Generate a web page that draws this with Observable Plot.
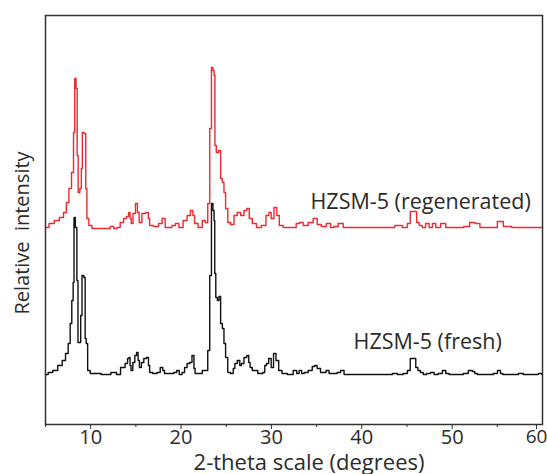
<!DOCTYPE html>
<html>
<head>
<meta charset="utf-8">
<script src="https://cdn.jsdelivr.net/npm/d3@7"></script>
<script src="https://cdn.jsdelivr.net/npm/@observablehq/plot@0.6"></script>
<style>
  html, body { margin: 0; padding: 0; background: #fff; }
  #chart svg { display: block; }
</style>
</head>
<body>
<div id="chart"></div>
<script>
// 2-theta (degrees) and relative intensity (arbitrary units, above own baseline)
const freshTheta = [5.0,5.08,5.52,6.07,6.63,7.07,7.36,7.66,7.80,8.02,8.10,8.21,8.40,8.54,8.65,8.84,8.95,9.13,9.35,9.43,9.57,9.76,10.13,12.17,12.31,12.75,12.97,13.64,13.97,14.19,14.30,14.41,14.52,14.80,14.97,15.19,15.30,15.49,15.74,16.02,16.33,16.46,16.59,17.15,17.51,17.88,18.07,18.26,18.99,19.40,19.65,19.95,20.28,20.50,20.84,21.06,21.36,21.50,21.61,22.17,22.53,22.83,23.08,23.27,23.46,23.60,23.71,23.75,23.94,24.10,24.30,24.46,24.68,24.82,25.04,25.30,25.68,25.87,26.04,26.41,26.59,26.78,27.15,27.40,27.59,27.70,28.07,28.37,28.62,28.92,29.17,29.36,29.55,29.84,30.11,30.36,30.66,30.95,31.39,32.13,32.69,32.91,33.24,33.46,33.79,34.35,34.68,34.90,35.23,35.64,35.90,36.20,36.56,37.11,37.45,37.86,38.22,39.88,41.55,43.21,43.57,44.31,44.87,45.23,45.50,45.86,46.09,46.34,46.64,46.97,47.41,47.82,48.19,48.74,49.11,49.48,49.85,50.96,51.51,52.07,52.40,52.62,52.95,54.28,54.83,55.20,55.50,55.72,57.05,57.60,58.16,59.26,59.82,60.0];
const freshI = [1,1,3,5,10,15,22,32,52,75,93,158,148,95,33,33,60,100,98,37,32,5,2,1,3,3,1,8,12,17,18,10,5,13,20,23,15,8,13,17,18,10,3,2,3,8,5,2,2,3,5,1,3,8,12,13,20,7,2,2,5,5,25,100,172,165,155,102,78,75,79,52,47,32,18,3,2,7,12,15,10,12,18,20,13,8,5,5,2,2,3,10,12,17,8,22,15,5,2,1,5,2,5,2,3,5,9,10,7,3,3,5,2,2,3,5,1,1,1,1,2,1,2,5,17,17,8,5,3,1,2,3,1,2,5,2,1,1,2,5,4,2,1,1,2,5,2,1,1,2,1,1,2,1];

const regenTheta = [5.0,5.08,5.70,6.25,6.81,7.18,7.44,7.74,8.02,8.18,8.29,8.47,8.54,8.69,8.91,9.02,9.13,9.40,9.51,9.65,9.95,10.32,11.98,12.34,12.75,13.08,13.45,13.83,14.08,14.30,14.41,14.56,14.80,15.11,15.24,15.49,15.85,16.30,16.46,16.59,17.29,17.74,18.07,18.43,18.84,19.17,19.58,19.95,20.50,20.84,21.24,21.39,21.61,22.17,22.53,22.83,23.08,23.27,23.46,23.60,23.71,23.79,24.01,24.30,24.46,24.68,24.82,25.04,25.30,25.68,26.04,26.41,26.78,27.15,27.40,27.70,28.07,28.62,29.17,29.62,29.84,30.11,30.47,30.73,31.02,31.58,32.46,33.02,33.24,33.79,34.35,34.90,35.23,35.79,36.37,36.74,37.11,37.67,38.22,39.88,41.55,43.21,44.09,44.87,45.23,45.50,45.98,46.17,46.53,46.86,47.27,47.63,48.00,48.37,49.11,49.48,50.96,51.62,52.25,52.80,53.36,54.61,55.39,55.94,57.24,58.34,60.0];
const regenI = [1,1,5,8,11,16,26,40,56,96,150,140,73,36,40,60,96,95,40,10,3,0,0,2,0,1,6,10,12,16,10,5,15,25,16,6,15,16,10,3,2,5,10,1,1,3,5,1,8,13,18,13,5,1,8,6,25,100,161,158,153,83,76,78,50,46,36,20,6,4,13,16,13,18,20,10,5,1,3,13,16,10,21,13,3,1,1,5,6,3,6,10,4,2,5,1,2,5,1,1,1,1,3,1,5,17,17,6,3,1,5,1,5,1,5,1,1,2,6,5,1,1,7,2,1,1,1];

const seriesNames = ["HZSM-5 (fresh)", "HZSM-5 (regenerated)"];
const seriesOffsets = [49, 196];        // vertical stacking offsets (intensity units)
const seriesColors = ["#111111", "#ee2a31"];
const labelTheta = [55.5, 58.7];        // where each series label ends
const labelIntensity = [33, 26];        // label height above its baseline
const xTicks = [10, 20, 30, 40, 50];
const xLastTick = [60];
const xMinorTicks = [5, 15, 25, 35, 45, 55];

const rows = [];
freshTheta.forEach((t, i) => rows.push({series: seriesNames[0], theta: t, y: freshI[i] + seriesOffsets[0]}));
regenTheta.forEach((t, i) => rows.push({series: seriesNames[1], theta: t, y: regenI[i] + seriesOffsets[1]}));

const labels = seriesNames.map((s, i) => ({text: s, theta: labelTheta[i], y: labelIntensity[i] + seriesOffsets[i]}));

const font = "'Open Sans', sans-serif";
const textColor = "#2b2b2b";

const chart = Plot.plot({
  width: 547,
  height: 474,
  marginLeft: 45,
  marginRight: 5,
  marginTop: 15,
  marginBottom: 50,
  style: {fontFamily: font, fontSize: "20px", color: textColor, background: "#fff"},
  x: {domain: [5, 60]},
  y: {domain: [0, 409], axis: null},
  marks: [
    Plot.axisX({ticks: xMinorTicks, tickSize: 3, tickFormat: () => "", label: null, stroke: "#333"}),
    Plot.axisX({ticks: xTicks, tickSize: 5, tickPadding: 0, label: null, stroke: "#333", fill: textColor, fontSize: 20}),
    Plot.axisX({ticks: xLastTick, tickSize: 5, tickPadding: 0, label: null, stroke: "#333", fill: textColor, fontSize: 19, dx: -6}),
    Plot.line(rows.filter(d => d.series === seriesNames[0]), {x: "theta", y: "y", stroke: seriesColors[0], strokeWidth: 1.4, curve: "step"}),
    Plot.line(rows.filter(d => d.series === seriesNames[1]), {x: "theta", y: "y", stroke: seriesColors[1], strokeWidth: 1.4, curve: "step"}),
    Plot.text(labels, {x: "theta", y: "y", text: "text", textAnchor: "end", fill: textColor, fontSize: 21.5}),
    Plot.text(["2-theta scale (degrees)"], {frameAnchor: "bottom", textAnchor: "middle", dx: 15, dy: 38, lineAnchor: "middle", fill: textColor, fontSize: 22}),
    Plot.text(["Relative  intensity"], {frameAnchor: "left", textAnchor: "middle", dx: -23, dy: 13, rotate: -90, lineAnchor: "middle", fill: textColor, fontSize: 20}),
    Plot.frame({stroke: "#333", strokeWidth: 1.5})
  ]
});
document.getElementById("chart").appendChild(chart);
</script>
</body>
</html>
